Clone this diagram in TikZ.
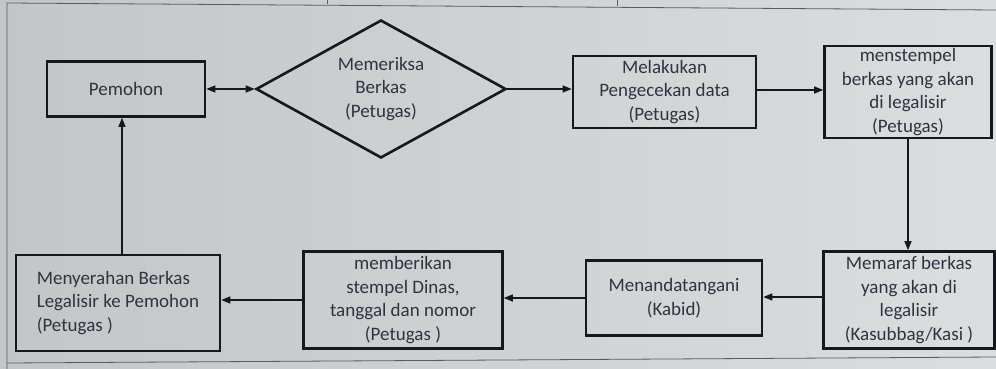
\documentclass[tikz,border=0pt]{standalone}
\usepackage{fontspec}
\setmainfont{Carlito}
\usetikzlibrary{shapes.geometric,arrows.meta}
\definecolor{bgL}{RGB}{196,197,199}
\definecolor{bgR}{RGB}{220,221,223}
\definecolor{txt}{RGB}{45,52,66}
\definecolor{ink}{RGB}{22,24,30}
\definecolor{frame}{RGB}{90,92,98}
\begin{document}
\begin{tikzpicture}[x=1pt,y=-1pt,
  lbl/.style={text=txt,font=\fontsize{19}{23.5}\selectfont},
  box/.style={lbl,draw=ink,line width=2.6pt,inner sep=2pt,align=center},
  dec/.style={lbl,draw=ink,line width=2.6pt,diamond,aspect=1.83,inner sep=0pt,align=center},
  flow/.style={draw=ink,line width=1.3pt,-{Triangle[length=9pt,width=7pt]}},
  framel/.style={draw=frame,line width=0.8pt}]
\useasboundingbox (0,0) rectangle (996,369);
\shade[left color=bgL,right color=bgR] (0,0) rectangle (996,369);
% photo frame lines
\draw[framel] (7,369) -- (7,3) -- (996,10);
\draw[framel] (7,363) -- (996,357);
\draw[framel] (327,0) -- (327,4.5);
\draw[framel] (617,0) -- (617,6.5);
% nodes
\node[box,minimum width=158pt,minimum height=55pt] (pem) at (126,89) {Pemohon};
\node[dec,minimum width=250pt,minimum height=138pt] (dia) at (381,89) {Memeriksa\\Berkas\\(Petugas)};
\node[box,minimum width=183pt,minimum height=72pt] (mel) at (664.5,92) {Melakukan\\Pengecekan data\\(Petugas)};
\node[box,minimum width=167pt,minimum height=92pt,inner sep=0pt] (stm) at (908,92) {menstempel\\berkas yang akan\\di legalisir\\(Petugas)};
\node[box,minimum width=171pt,minimum height=97pt,inner sep=0pt] (mrf) at (909,300) {Memaraf berkas\\yang akan di\\legalisir\\(Kasubbag/Kasi )};
\node[box,minimum width=176pt,minimum height=75pt] (ttd) at (674,298) {Menandatangani\\(Kabid)};
\node[box,minimum width=199pt,minimum height=97pt,inner sep=0pt] (bri) at (403,300) {memberikan\\stempel Dinas,\\tanggal dan nomor\\(Petugas )};
\node[box,minimum width=204pt,minimum height=96pt,align=left] (nyr) at (118,303) {Menyerahan Berkas\\Legalisir ke Pemohon\\(Petugas )};
% connectors
\draw[flow,{Triangle[length=9pt,width=7pt]}-{Triangle[length=9pt,width=7pt]}] (pem.east) -- (dia.west);
\draw[flow] (dia.east) -- (dia.east -| mel.west);
\draw[flow] (mel.west -| mel.east) ++(0,-2) coordinate (m1) -- (m1 -| stm.west);
\draw[flow] (stm.south) -- (stm.south |- mrf.north);
\draw[flow] (mrf.west) ++(0,-3) coordinate (m2) -- (m2 -| ttd.east);
\draw[flow] (ttd.west) -- (ttd.west -| bri.east);
\draw[flow] (bri.west) -- (bri.west -| nyr.east);
\draw[flow] (nyr.north -| pem.south) ++(-4,0) coordinate (m3) -- (m3 |- pem.south);
\end{tikzpicture}
\end{document}
